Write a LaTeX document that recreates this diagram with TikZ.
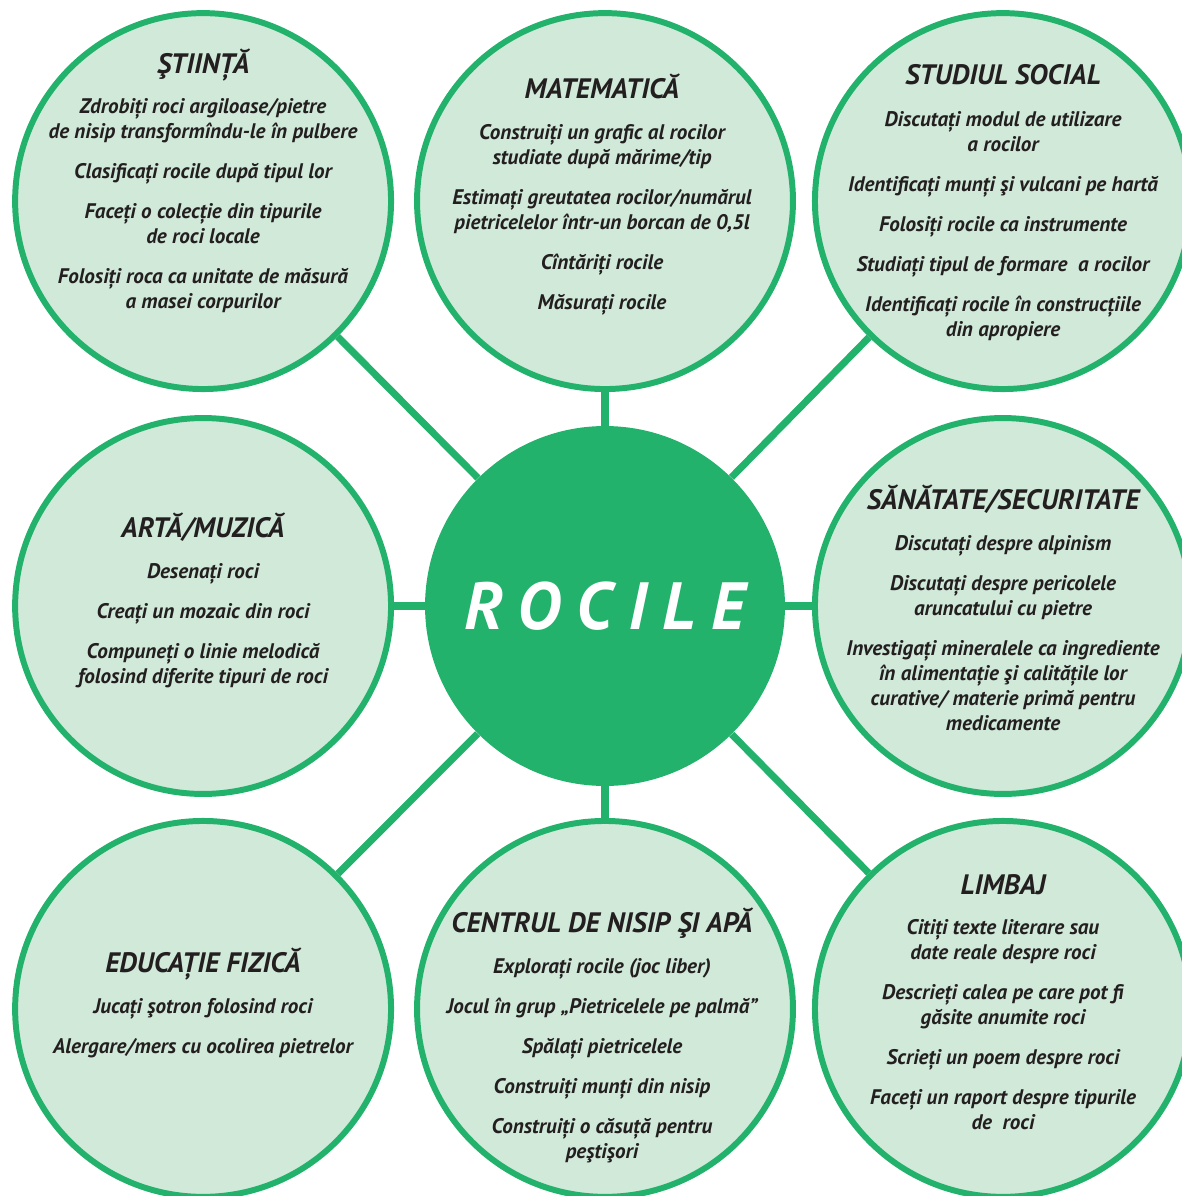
\documentclass[tikz,border=0pt]{standalone}
\usepackage{fontspec}
\setmainfont{PT Sans}
\newfontfamily\hubfont[LetterSpace=24]{PT Sans}
\usetikzlibrary{positioning}
\definecolor{rockgreen}{HTML}{22B26C}
\definecolor{rockpale}{HTML}{D0E9D9}
\definecolor{rockink}{HTML}{231F20}
\tikzstyle{hub}=[circle,
	inner sep=0pt,
	minimum size=7.2cm,
	fill=rockgreen,
	text=white,
	font=\hubfont\bfseries\itshape\fontsize{38}{40}\selectfont]
\tikzstyle{topic}=[circle,
	inner sep=0pt,
	minimum size=7.52cm,
	line width=3.4pt,
	draw=rockgreen,
	fill=rockpale]
\tikzstyle{heading}=[anchor=base,
	inner sep=0pt,
	text=rockink,
	font=\bfseries\itshape\fontsize{16}{19}\selectfont]
\tikzstyle{items}=[anchor=base,
	inner sep=0pt,
	align=center,
	text=rockink,
	font=\bfseries\itshape\fontsize{12}{14.2}\selectfont]
\tikzstyle{spoke}=[line width=4pt,
	draw=rockgreen]
\newcommand{\gapline}{\\[8.5pt]}
\begin{document}
\begin{tikzpicture}[x=0.02cm,y=-0.02cm,node distance=8cm,on grid]
	\useasboundingbox (0,0) rectangle (1182,1196);

	\node (rocks) [hub] at (605,606) {ROCILE\hspace{-4.5pt}};
	\node (sci) [topic, above left=8.1cm and 8.04cm of rocks] {};
	\node (math) [topic, above=8.1cm of rocks] {};
	\node (soc) [topic, above right=8.1cm and 7.96cm of rocks] {};
	\node (art) [topic, left=8.04cm of rocks] {};
	\node (health) [topic, right=7.96cm of rocks] {};
	\node (pe) [topic, below left=8.06cm and 8.04cm of rocks] {};
	\node (sand) [topic, below=8.06cm of rocks] {};
	\node (lang) [topic, below right=8.06cm and 7.96cm of rocks] {};

	\foreach \t in {sci,math,soc,art,health,pe,sand,lang}
		\draw [spoke] (rocks) -- (\t);

	% body nodes sit on the baseline of their last line
	\node (sciH) [heading] at (203,74) {ŞTIINȚĂ};
	\node (sciB) [items] at (203,308) {Zdrobiți roci argiloase/pietre\\de nisip transformîndu-le în pulbere\gapline
		Clasificați rocile după tipul lor\gapline
		Faceți o colecție din tipurile\\de roci locale\gapline
		Folosiți roca ca unitate de măsură\\a masei corpurilor};

	\node (mathH) [heading] at (602,99) {MATEMATICĂ};
	\node (mathB) [items] at (602,309) {Construiți un grafic al rocilor\\studiate după mărime/tip\gapline
		Estimați greutatea rocilor/numărul\\pietricelelor într-un borcan de 0,5l\gapline
		Cîntăriți rocile\gapline
		Măsurați rocile};

	\node (socH) [heading] at (1003,85) {STUDIUL SOCIAL};
	\node (socB) [items] at (1003,336) {Discutați modul de utilizare\\a rocilor\gapline
		Identificați munți şi vulcani pe hartă\gapline
		Folosiți rocile ca instrumente\gapline
		Studiați tipul de formare\ \ a rocilor\gapline
		Identificați rocile în construcțiile\\din apropiere};

	\node (artH) [heading] at (203,537) {ARTĂ/MUZICĂ};
	\node (artB) [items] at (203,683) {Desenați roci\gapline
		Creați un mozaic din roci\gapline
		Compuneți o linie melodică\\folosind diferite tipuri de roci};

	\node (healthH) [heading] at (1003,509) {SĂNĂTATE/SECURITATE};
	\node (healthB) [items] at (1003,730) {Discutați despre alpinism\gapline
		Discutați despre pericolele\\aruncatului cu pietre\gapline
		Investigați mineralele ca ingrediente\\în alimentație şi calitățile lor\\curative/ materie primă pentru\\medicamente};

	\node (peH) [heading] at (203,972) {EDUCAȚIE FIZICĂ};
	\node (peB) [items] at (203,1053) {Jucați şotron folosind roci\gapline
		Alergare/mers cu ocolirea pietrelor};

	\node (sandH) [heading] at (602,932) {CENTRUL DE NISIP ŞI APĂ};
	\node (sandB) [items] at (602,1158) {Explorați rocile (joc liber)\gapline
		Jocul în grup „Pietricelele pe palmă”\gapline
		Spălați pietricelele\gapline
		Construiți munți din nisip\gapline
		Construiți o căsuță pentru\\peştişori};

	\node (langH) [heading] at (1003,894) {LIMBAJ};
	\node (langB) [items] at (1003,1129) {Citiți texte literare sau\\date reale despre roci\gapline
		Descrieți calea pe care pot fi\\găsite anumite roci\gapline
		Scrieți un poem despre roci\gapline
		Faceți un raport despre tipurile\\de\ \ roci};
\end{tikzpicture}
\end{document}
